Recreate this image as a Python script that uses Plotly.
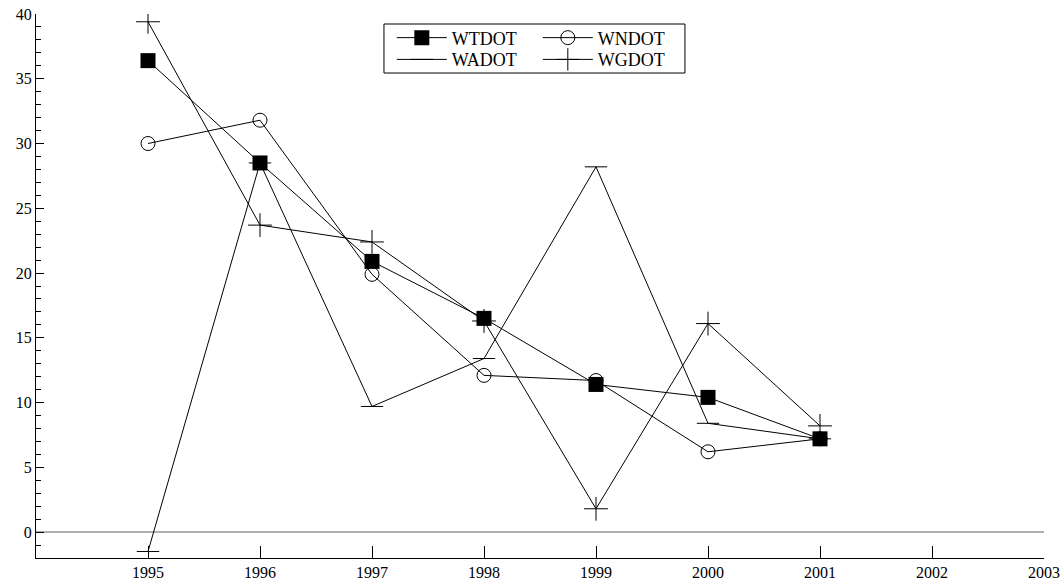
import plotly.graph_objects as go

years = [1995, 1996, 1997, 1998, 1999, 2000, 2001]
wtdot = [36.4, 28.5, 20.9, 16.5, 11.4, 10.4, 7.2]
wndot = [30.0, 31.8, 19.9, 12.1, 11.7, 6.2, 7.2]
wadot = [-1.5, 28.5, 9.7, 13.4, 28.2, 8.4, 7.2]
wgdot = [39.4, 23.7, 22.4, 16.3, 1.8, 16.1, 8.2]

x_ticks = list(range(1995, 2004))
y_ticks = list(range(0, 41, 5))

FONT = "Liberation Serif"
line = dict(color="black", width=1)

fig = go.Figure()
fig.add_trace(go.Scatter(
    x=years, y=wtdot, name="WTDOT", mode="lines+markers", line=line,
    marker=dict(symbol="square", size=15, color="black"), legend="legend"))
fig.add_trace(go.Scatter(
    x=years, y=wndot, name="WNDOT", mode="lines+markers", line=line,
    marker=dict(symbol="circle-open", size=14, color="black", line=dict(width=1)),
    legend="legend"))
fig.add_trace(go.Scatter(
    x=years, y=wadot, name="WADOT", mode="lines+markers", line=line, cliponaxis=False,
    marker=dict(symbol="line-ew", size=16, color="black", line=dict(width=1, color="black")),
    legend="legend2"))
fig.add_trace(go.Scatter(
    x=years, y=wgdot, name="WGDOT", mode="lines+markers", line=line,
    marker=dict(symbol="cross-thin", size=17, color="black", line=dict(width=1, color="black")),
    legend="legend2"))

# zero reference line
fig.add_shape(type="line", xref="paper", x0=0, x1=1, yref="y", y0=0, y1=0,
              line=dict(color="#b0b0b0", width=2), layer="below")

# frame around the two legend rows
fig.add_shape(type="rect", xref="paper", yref="paper",
              x0=0.3452, x1=0.6438, y0=0.9816, y1=0.8915,
              line=dict(color="black", width=1), fillcolor="white", layer="below")

legend_common = dict(orientation="h", xanchor="left", yanchor="top",
                     bgcolor="rgba(0,0,0,0)", borderwidth=0, entrywidth=81,
                     font=dict(family=FONT, size=18), itemwidth=50, tracegroupgap=0)

fig.update_layout(
    width=1063, height=585,
    margin=dict(l=36, r=19, t=14, b=27, autoexpand=False),
    paper_bgcolor="white", plot_bgcolor="white",
    font=dict(family=FONT, size=16, color="black"),
    showlegend=True,
    legend=dict(x=0.353, y=0.990, **legend_common),
    legend2=dict(x=0.353, y=0.950, **legend_common),
    xaxis=dict(range=[1994, 2003], tickvals=x_ticks, ticktext=[str(v) for v in x_ticks],
               ticks="inside", ticklen=12, tickcolor="black", tickwidth=1,
               showline=True, linecolor="black", linewidth=1, showgrid=False,
               zeroline=False, automargin=False, tickfont=dict(family=FONT, size=16)),
    yaxis=dict(range=[-2, 40], tickvals=y_ticks,
               ticks="inside", ticklen=8, tickcolor="black", tickwidth=1,
               minor=dict(dtick=1, ticks="inside", ticklen=5, tickcolor="black", showgrid=False),
               showline=True, linecolor="black", linewidth=1, showgrid=False,
               zeroline=False, automargin=False, tickfont=dict(family=FONT, size=16)),
)

fig.write_html("out.html")
